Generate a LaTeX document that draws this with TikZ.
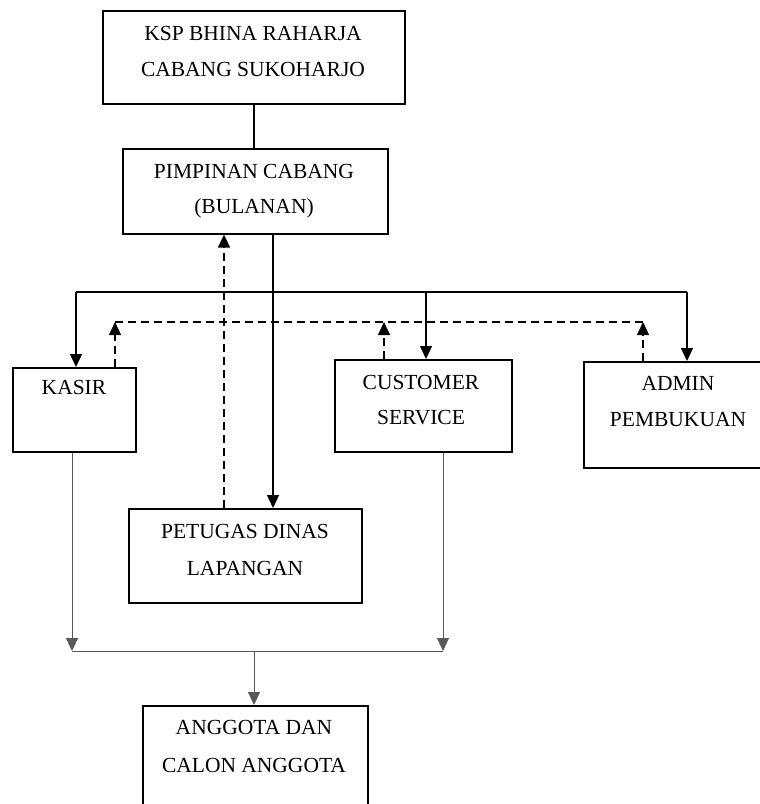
\documentclass[tikz,border=0pt]{standalone}
\usepackage{fontspec}
\setmainfont{Liberation Serif}
\usetikzlibrary{arrows.meta}
\begin{document}
\begin{tikzpicture}[x=1pt,y=-1pt,
  box/.style={draw=black, line width=1.6pt, rectangle, inner sep=0pt, anchor=north west},
  txt/.style={inner sep=0pt, font=\fontsize{21.5}{25}\selectfont, text=black},
  tip/.style={-{Triangle[length=13pt,width=12pt]}},
  solidline/.style={line width=1.4pt},
  dashline/.style={line width=1.4pt, dash pattern=on 8pt off 5pt},
  thinline/.style={line width=1pt, draw=black!65}]
\useasboundingbox (0,0) rectangle (760,804);
\clip (0,0) rectangle (760,804);
\fill[white] (0,0) rectangle (760,804);
% boxes
\node[box, minimum width=302pt, minimum height=93pt] (top) at (102,10) {};
\node[box, minimum width=265pt, minimum height=85pt] (pimp) at (122,148) {};
\node[box, minimum width=123pt, minimum height=84pt] (kasir) at (12,367) {};
\node[box, minimum width=177pt, minimum height=92pt] (cust) at (334,359) {};
\node[box, minimum width=190pt, minimum height=106pt] (admin) at (583,361) {};
\node[box, minimum width=233pt, minimum height=94pt] (petugas) at (128,508) {};
\node[box, minimum width=225pt, minimum height=120pt] (anggota) at (142,705) {};
% texts
\node[txt] (t1) at (253,33) {KSP BHINA RAHARJA};
\node[txt] (t2) at (253,69) {CABANG SUKOHARJO};
\node[txt] (t3) at (254,171) {PIMPINAN CABANG};
\node[txt] (t4) at (254,208) {(BULANAN)};
\node[txt] (t5) at (74,387) {KASIR};
\node[txt] (t6) at (421,382) {CUSTOMER};
\node[txt] (t7) at (421,418) {SERVICE};
\node[txt] (t8) at (678,383) {ADMIN};
\node[txt] (t9) at (678,420) {PEMBUKUAN};
\node[txt] (t10) at (245,531) {PETUGAS DINAS};
\node[txt] (t11) at (245,568) {LAPANGAN};
\node[txt] (t12) at (254,727) {ANGGOTA DAN};
\node[txt] (t13) at (254,765) {CALON ANGGOTA};
% junction coordinates
\coordinate (sL) at (76,292);
\coordinate (sR) at (687,292);
\coordinate (sC) at (426,292);
\coordinate (dL) at (115,322);
\coordinate (dC) at (384,322);
\coordinate (dR) at (643,322);
\coordinate (bL) at (72,651);
\coordinate (bR) at (443,651);
\coordinate (bM) at (254,651);
% solid
\draw[solidline] (top.south) -- (pimp.north -| top.south);
\draw[solidline, tip] (pimp.south -| 273,0) -- (petugas.north -| 273,0);
\draw[solidline] (sL) -- (sR);
\draw[solidline, tip] (sL) -- (sL |- kasir.north);
\draw[solidline, tip] (sC) -- (sC |- cust.north);
\draw[solidline, tip] (sR) -- (sR |- admin.north);
% dashed
\draw[dashline, tip] (petugas.north -| 224,0) -- (pimp.south -| 224,0);
\draw[dashline] (dL) -- (dR);
\draw[dashline, tip] (dL |- kasir.north) -- (dL);
\draw[dashline, tip] (dC |- cust.north) -- (dC);
\draw[dashline, tip] (dR |- admin.north) -- (dR);
% thin bottom
\draw[thinline] (bL) -- (bR);
\draw[thinline, tip] (bL |- kasir.south) -- (bL);
\draw[thinline, tip] (bR |- cust.south) -- (bR);
\draw[thinline, tip] (bM) -- (bM |- anggota.north);
\end{tikzpicture}
\end{document}
